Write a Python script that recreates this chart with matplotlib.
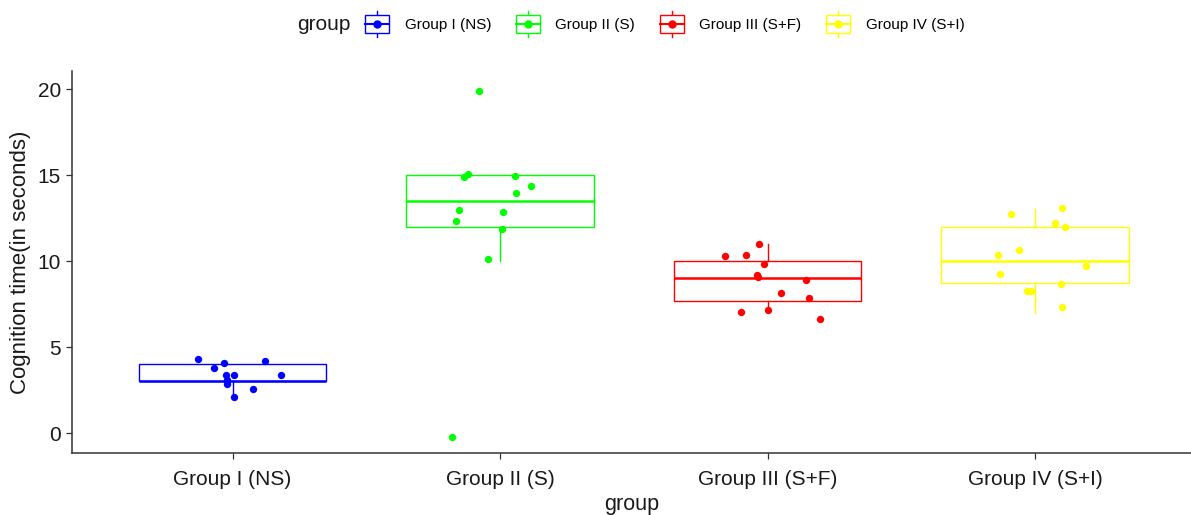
import matplotlib
matplotlib.use("Agg")
from matplotlib import pyplot as plt
from matplotlib.legend_handler import HandlerBase
from matplotlib.lines import Line2D
from matplotlib.patches import Rectangle

plt.rcParams['font.family'] = ['Liberation Sans', 'DejaVu Sans']

# Group names and colours
groups = ['Group I (NS)', 'Group II (S)', 'Group III (S+F)', 'Group IV (S+I)']
colors = ['#0000FF', '#00FF00', '#FF0000', '#FFFF00']

# Box statistics: lower whisker, Q1, median, Q3, upper whisker
whisker_low = [2.1, 10.0, 7.2, 7.0]
q1 = [3.0, 12.0, 7.7, 8.75]
median = [3.0, 13.5, 9.0, 10.0]
q3 = [4.0, 15.0, 10.0, 12.0]
whisker_high = [4.0, 15.0, 11.0, 13.0]

# Jittered observations (value, horizontal jitter relative to group centre)
g1_values = [4.30, 4.07, 4.20, 3.76, 3.37, 3.37, 3.37, 3.08, 2.85, 2.58, 2.09]
g1_jitter = [-0.129, -0.030, 0.121, -0.070, -0.025, 0.006, 0.182, -0.021, -0.019, 0.076, 0.006]

g2_values = [19.86, 15.06, 14.86, 14.96, 14.34, 13.95, 12.94, 12.87, 12.30, 11.84, 10.12, -0.23]
g2_jitter = [-0.080, -0.120, -0.135, 0.055, 0.117, 0.061, -0.155, 0.010, -0.164, 0.006, -0.046, -0.181]

g3_values = [10.99, 10.29, 10.37, 9.80, 9.20, 9.05, 8.87, 8.12, 7.87, 7.01, 7.17, 6.63]
g3_jitter = [-0.031, -0.159, -0.080, -0.015, -0.040, -0.036, 0.145, 0.051, 0.156, -0.101, 0.000, 0.196]

g4_values = [13.10, 12.71, 12.23, 11.99, 10.67, 10.37, 9.73, 9.26, 8.64, 8.27, 8.27, 7.33]
g4_jitter = [0.101, -0.090, 0.076, 0.111, -0.060, -0.139, 0.191, -0.130, 0.096, -0.029, -0.016, 0.101]

values = [g1_values, g2_values, g3_values, g4_values]
jitters = [g1_jitter, g2_jitter, g3_jitter, g4_jitter]


class BoxKeyHandler(HandlerBase):
    """Draw a small boxplot-like legend key with a point in the middle."""

    def create_artists(self, legend, orig_handle, xdescent, ydescent,
                       width, height, fontsize, trans):
        color = orig_handle.get_color()
        x0, y0 = -xdescent, -ydescent
        cx = x0 + width / 2
        cy = y0 + height / 2
        box = Rectangle((x0, y0 + 0.15 * height), width, 0.7 * height,
                        facecolor='white', edgecolor=color, lw=1.0, transform=trans)
        whisk = Line2D([cx, cx], [y0, y0 + height], color=color, lw=1.0, transform=trans)
        mid = Line2D([x0, x0 + width], [cy, cy], color=color, lw=1.5, transform=trans)
        dot = Line2D([cx], [cy], marker='o', ms=5.0, color=color, ls='none', transform=trans)
        return [whisk, box, mid, dot]


fig = plt.figure(figsize=(11.91, 5.15), dpi=100)
ax = fig.add_axes([72 / 1191, 62 / 515, 1 - 72 / 1191, (453 - 71) / 515])

positions = list(range(1, len(groups) + 1))

for i, name in enumerate(groups):
    stats = [{'whislo': whisker_low[i], 'q1': q1[i], 'med': median[i],
              'q3': q3[i], 'whishi': whisker_high[i]}]
    ax.bxp(stats, positions=[positions[i]], widths=0.7, showfliers=False,
           showcaps=False, patch_artist=True,
           boxprops=dict(facecolor='white', edgecolor=colors[i], lw=1.0),
           whiskerprops=dict(color=colors[i], lw=1.0),
           medianprops=dict(color=colors[i], lw=1.8))

for i, name in enumerate(groups):
    xs = [positions[i] + j for j in jitters[i]]
    ax.scatter(xs, values[i], s=28, color=colors[i], zorder=5, linewidths=0)

ax.set_xlim(0.4, 4.583)
ax.set_ylim(-1.16, 21.05)
ax.set_yticks([0, 5, 10, 15, 20])
ax.set_xticks(positions)
ax.set_xticklabels(groups)

for side in ['top', 'right']:
    ax.spines[side].set_visible(False)
for side in ['left', 'bottom']:
    ax.spines[side].set_color('#333333')
    ax.spines[side].set_linewidth(1.1)

ax.tick_params(axis='both', colors='#333333', length=4, width=0.9, labelsize=15,
               labelcolor='#1a1a1a', pad=4)
ax.tick_params(axis='x', pad=8)
ax.set_xlabel('group', fontsize=15.5, color='#1a1a1a', labelpad=4)
ax.set_ylabel('Cognition time(in seconds)', fontsize=16, color='#1a1a1a', labelpad=5)

handles = [Line2D([], [], color=c) for c in colors]
fig.legend(handles, groups, handler_map={Line2D: BoxKeyHandler()},
           loc='center left', bbox_to_anchor=(365 / 1191, 1 - 24 / 515),
           ncol=4, frameon=False, fontsize=11, borderpad=0, borderaxespad=0,
           handlelength=1.6, handleheight=2.2, handletextpad=1.0, columnspacing=1.6)
fig.text(297 / 1191, 1 - 24 / 515, 'group', fontsize=15, color='#1a1a1a',
         ha='left', va='center')

fig.savefig('out.png', dpi=100)
